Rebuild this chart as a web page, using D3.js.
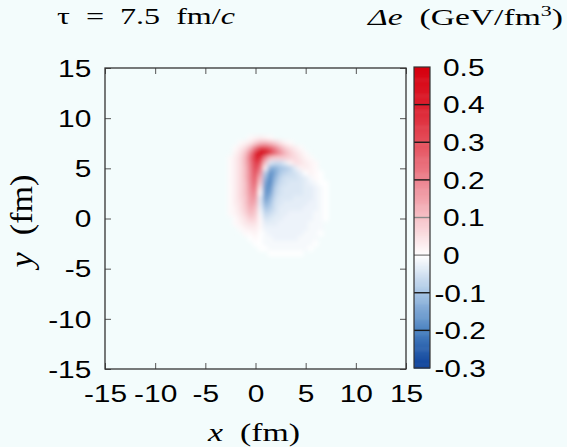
<!DOCTYPE html>
<html>
<head>
<meta charset="utf-8">
<script src="https://cdn.jsdelivr.net/npm/d3@7"></script>
<style>
  html, body { margin: 0; padding: 0; background: #f3fcfc; }
  svg { display: block; }
  text { white-space: pre; }
</style>
</head>
<body>
<svg id="chart" width="567" height="447"></svg>
<script>
// Axis ticks (fm) and colour-bar ticks (GeV/fm^3)
const xTicks = [-15, -10, -5, 0, 5, 10, 15];
const yTicks = [-15, -10, -5, 0, 5, 10, 15];
const cbTicks = [-0.3, -0.2, -0.1, 0, 0.1, 0.2, 0.3, 0.4, 0.5];
const cbColors = ["#0a3e98", "#4a82c0", "#a6c4e4", "#ffffff", "#f6c2c8",
                  "#ec8490", "#e4505c", "#dc1f2e", "#d6000e"];

// Energy-density difference on a 0.5 fm grid: one row per y, starting at xStart
const gridStep = 0.5;
const yRows = [8, 7.5, 7, 6.5, 6, 5.5, 5, 4.5, 4, 3.5, 3, 2.5, 2, 1.5, 1, 0.5,
               0, -0.5, -1, -1.5, -2, -2.5, -3, -3.5];
const xStart = [-0.5, -1.5, -2, -2, -2.5, -2.5, -2.5, -2.5, -2.5, -2.5, -2.5, -2.5,
                -2.5, -2.5, -2.5, -2.5, -2, -2, -1.5, -1, -0.5, 0, 0.5, 1.5];
const deltaE = [
  [0.01, 0.02, 0.03, 0.02, 0.01],
  [0.01, 0.02, 0.04, 0.08, 0.12, 0.13, 0.11, 0.08, 0.05, 0.02, 0.01],
  [0.01, 0.03, 0.06, 0.12, 0.22, 0.32, 0.32, 0.27, 0.20, 0.13, 0.08, 0.05, 0.03, 0.01],
  [0.02, 0.05, 0.10, 0.20, 0.36, 0.50, 0.46, 0.35, 0.25, 0.18, 0.12, 0.08, 0.05, 0.03, 0.01],
  [0.01, 0.03, 0.06, 0.12, 0.24, 0.38, 0.38, 0.20, 0.10, 0.08, 0.08, 0.08, 0.07, 0.06, 0.04, 0.02, 0.01],
  [0.01, 0.03, 0.06, 0.12, 0.22, 0.34, 0.30, 0.10, -0.04, -0.06, -0.06, -0.03, 0.02, 0.05, 0.05, 0.03, 0.02, 0.01],
  [0.01, 0.03, 0.06, 0.11, 0.21, 0.32, 0.24, 0.02, -0.13, -0.13, -0.10, -0.09, -0.07, -0.03, 0.02, 0.03, 0.02, 0.01],
  [0.01, 0.03, 0.06, 0.11, 0.20, 0.30, 0.18, -0.08, -0.18, -0.14, -0.09, -0.07, -0.06, -0.05, -0.03, 0.00, 0.02, 0.01, 0.00],
  [0.01, 0.03, 0.06, 0.11, 0.20, 0.28, 0.12, -0.12, -0.19, -0.12, -0.07, -0.05, -0.05, -0.05, -0.04, -0.03, -0.01, 0.01, 0.00],
  [0.01, 0.03, 0.06, 0.10, 0.19, 0.26, 0.08, -0.15, -0.19, -0.10, -0.06, -0.05, -0.04, -0.04, -0.04, -0.03, -0.02, -0.01, 0.00, 0.00],
  [0.01, 0.03, 0.06, 0.10, 0.18, 0.23, 0.03, -0.17, -0.17, -0.08, -0.05, -0.04, -0.04, -0.04, -0.04, -0.03, -0.03, -0.02, -0.01, 0.00],
  [0.01, 0.03, 0.06, 0.10, 0.17, 0.20, 0.00, -0.17, -0.15, -0.07, -0.05, -0.04, -0.04, -0.04, -0.04, -0.03, -0.03, -0.02, -0.01, 0.00],
  [0.01, 0.03, 0.06, 0.09, 0.16, 0.17, -0.03, -0.16, -0.12, -0.06, -0.04, -0.04, -0.04, -0.03, -0.03, -0.03, -0.03, -0.02, -0.01, 0.00],
  [0.01, 0.03, 0.05, 0.09, 0.15, 0.14, -0.03, -0.13, -0.10, -0.05, -0.04, -0.03, -0.03, -0.03, -0.03, -0.03, -0.02, -0.02, -0.01, 0.00],
  [0.01, 0.02, 0.05, 0.08, 0.13, 0.11, -0.02, -0.10, -0.08, -0.05, -0.03, -0.03, -0.03, -0.03, -0.03, -0.02, -0.02, -0.02, -0.01, 0.00],
  [0.01, 0.02, 0.04, 0.07, 0.11, 0.09, -0.01, -0.07, -0.06, -0.04, -0.03, -0.03, -0.02, -0.02, -0.02, -0.02, -0.02, -0.01, -0.01, 0.00],
  [0.01, 0.03, 0.05, 0.08, 0.07, 0.01, -0.05, -0.04, -0.03, -0.03, -0.02, -0.02, -0.02, -0.02, -0.02, -0.02, -0.01, -0.01, 0.00],
  [0.01, 0.02, 0.04, 0.05, 0.05, 0.01, -0.03, -0.03, -0.03, -0.02, -0.02, -0.02, -0.02, -0.02, -0.02, -0.01, -0.01, -0.01],
  [0.01, 0.02, 0.03, 0.03, 0.01, -0.02, -0.02, -0.02, -0.02, -0.02, -0.02, -0.02, -0.02, -0.02, -0.01, -0.01, -0.01],
  [0.01, 0.01, 0.02, 0.00, -0.01, -0.02, -0.02, -0.02, -0.02, -0.02, -0.02, -0.02, -0.01, -0.01, -0.01, 0.00],
  [0.00, 0.01, 0.00, -0.01, -0.01, -0.02, -0.02, -0.02, -0.02, -0.02, -0.01, -0.01, -0.01, -0.01],
  [0.00, 0.00, -0.01, -0.01, -0.01, -0.01, -0.01, -0.01, -0.01, -0.01, -0.01, -0.01, 0.00],
  [0.00, 0.00, -0.01, -0.01, -0.01, -0.01, -0.01, -0.01, -0.01, -0.01, 0.00],
  [0.00, 0.00, 0.00, 0.00, 0.00, 0.00, 0.00]
];

const svg = d3.select("#chart");
const SANS = "'Liberation Sans', Arial, Helvetica, sans-serif";
const SERIF = "'Liberation Serif', 'Times New Roman', serif";
const TX = 1.3; // horizontal stretch of the lettering

svg.append("rect").attr("width", 567).attr("height", 447).attr("fill", "#f3fcfc");

const x = d3.scaleLinear().domain([-15, 15]).range([105, 406]);
const y = d3.scaleLinear().domain([-15, 15]).range([369, 68]);
const color = d3.scaleLinear().domain(cbTicks).range(cbColors).clamp(true);

const defs = svg.append("defs");
defs.append("clipPath").attr("id", "plotClip")
  .append("rect").attr("x", x(-15)).attr("y", y(15))
  .attr("width", x(15) - x(-15)).attr("height", y(-15) - y(15));
defs.append("filter").attr("id", "soft")
  .attr("x", "-20%").attr("y", "-20%").attr("width", "140%").attr("height", "140%")
  .append("feGaussianBlur").attr("stdDeviation", 2);

// Heat-map cells
const cells = [];
yRows.forEach((yv, i) => {
  deltaE[i].forEach((v, j) => cells.push({ x: xStart[i] + j * gridStep, y: yv, v }));
});
const h = gridStep / 2;
svg.append("g").attr("clip-path", "url(#plotClip)")
  .append("g").attr("filter", "url(#soft)")
  .selectAll("rect").data(cells).join("rect")
  .attr("x", d => x(d.x - h) - 0.3)
  .attr("y", d => y(d.y + h) - 0.3)
  .attr("width", d => x(d.x + h) - x(d.x - h) + 0.6)
  .attr("height", d => y(d.y - h) - y(d.y + h) + 0.6)
  .attr("fill", d => color(d.v));

// Axes with inward ticks
function styleAxis(g) {
  g.select(".domain").remove();
  g.selectAll(".tick line").attr("stroke", "#555").attr("stroke-width", 1);
  g.selectAll(".tick text").attr("fill", "#000")
    .attr("font-family", SANS).attr("font-size", 23)
    .attr("transform", `scale(${TX},1)`);
}
svg.append("g").attr("transform", `translate(0,${y(-15)})`)
  .call(d3.axisBottom(x).tickValues(xTicks).tickSizeInner(-6).tickSizeOuter(0)
    .tickPadding(17).tickFormat(d => String(d)))
  .call(styleAxis);
svg.append("g").attr("transform", `translate(0,${y(15)})`)
  .call(d3.axisTop(x).tickValues(xTicks).tickSizeInner(-6).tickSizeOuter(0).tickFormat(""))
  .call(styleAxis);
svg.append("g").attr("transform", `translate(${x(-15)},0)`)
  .call(d3.axisLeft(y).tickValues(yTicks).tickSizeInner(-6).tickSizeOuter(0)
    .tickPadding(10.5).tickFormat(d => String(d)))
  .call(styleAxis)
  .selectAll(".tick text").attr("dy", "0.36em");
svg.append("g").attr("transform", `translate(${x(15)},0)`)
  .call(d3.axisRight(y).tickValues(yTicks).tickSizeInner(-6).tickSizeOuter(0).tickFormat(""))
  .call(styleAxis);

// Plot frame
svg.append("rect")
  .attr("x", x(-15)).attr("y", y(15))
  .attr("width", x(15) - x(-15)).attr("height", y(-15) - y(15))
  .attr("fill", "none").attr("stroke", "#333").attr("stroke-width", 1.3);

// Colour bar
const cb = d3.scaleLinear().domain([-0.3, 0.5]).range([368, 67]);
const cbX = 414, cbW = 16, step = 0.0025;
svg.append("g").selectAll("rect").data(d3.range(-0.3, 0.5 - step / 2, step)).join("rect")
  .attr("x", cbX).attr("width", cbW)
  .attr("y", d => cb(d + step))
  .attr("height", d => cb(d) - cb(d + step) + 0.6)
  .attr("fill", d => color(d + step / 2));
svg.append("g").selectAll("line").data(cbTicks.slice(1, -1)).join("line")
  .attr("x1", cbX).attr("x2", cbX + cbW)
  .attr("y1", d => cb(d)).attr("y2", d => cb(d))
  .attr("stroke", d => (d === 0 || d === 0.1) ? "#888" : "#1a1a1a")
  .attr("stroke-width", 1.4);
svg.append("rect").attr("x", cbX).attr("y", cb(0.5)).attr("width", cbW)
  .attr("height", cb(-0.3) - cb(0.5))
  .attr("fill", "none").attr("stroke", "#333").attr("stroke-width", 1.2);
svg.append("g").attr("transform", `translate(${cbX + cbW},0)`)
  .call(d3.axisRight(cb).tickValues(cbTicks).tickSize(0).tickPadding(10)
    .tickFormat(d => d === 0 ? "0" : d.toFixed(1)))
  .call(styleAxis)
  .selectAll(".tick text")
  .attr("x", d => d < 0 ? 3.4 : 10)
  .attr("dy", "0.36em");

// Titles
function stretchTo(t, tx, ty, width, extra) {
  const w = t.node().getComputedTextLength();
  t.attr("transform", `translate(${tx},${ty})${extra && extra.rotate ? ` rotate(${extra.rotate})` : ""} scale(${width / w},${(extra && extra.sy) || 1})`);
}

const t1 = svg.append("text").attr("font-family", SERIF).attr("font-size", 23).attr("fill", "#000");
t1.append("tspan").text("τ  =  7.5  fm/");
t1.append("tspan").attr("font-style", "italic").text("c");
stretchTo(t1, 57, 24, 178);

const t2 = svg.append("text").attr("font-family", SERIF).attr("font-size", 23).attr("fill", "#000");
t2.append("tspan").attr("font-style", "italic").text("Δe");
t2.append("tspan").text("  (GeV/fm");
t2.append("tspan").attr("font-size", 15).attr("dy", -9).text("3");
t2.append("tspan").attr("dy", 9).text(")");
stretchTo(t2, 368, 25, 195);

const t3 = svg.append("text").attr("font-family", SERIF).attr("font-size", 26)
  .attr("text-anchor", "middle").attr("fill", "#000");
t3.append("tspan").attr("font-style", "italic").text("x");
t3.append("tspan").text("  (fm)");
stretchTo(t3, 254, 441, 92);

const t4 = svg.append("text").attr("font-family", SERIF).attr("font-size", 26)
  .attr("text-anchor", "middle").attr("fill", "#000");
t4.append("tspan").attr("font-style", "italic").text("y");
t4.append("tspan").text("  (fm)");
stretchTo(t4, 32, 221, 93, { rotate: -90, sy: 1.2 });
</script>
</body>
</html>
